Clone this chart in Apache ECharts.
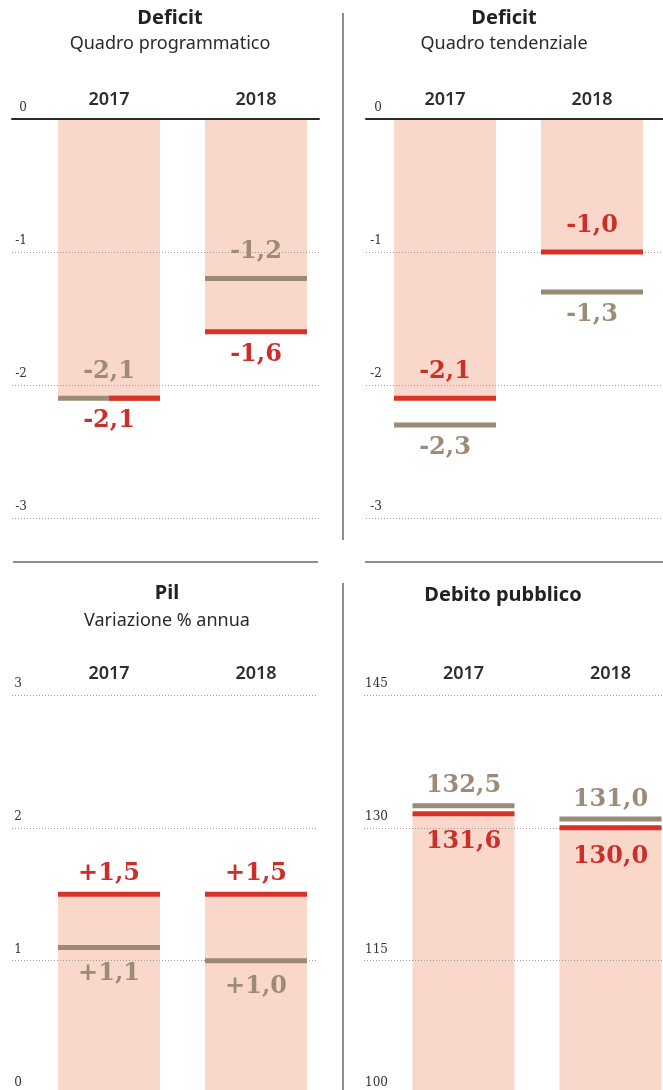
<!DOCTYPE html>
<html><head><meta charset="utf-8">
<script src="https://cdn.jsdelivr.net/npm/echarts@6/dist/echarts.min.js"></script>
<style>html,body{margin:0;padding:0;background:#fff}#c{width:663px;height:1090px}</style>
</head><body><div id="c"></div>
<script>
// ---- data ----
const years = ['2017', '2018'];
const deficitProgRed  = [-2.1, -1.6];
const deficitProgGray = [-2.1, -1.2];
const deficitTendRed  = [-2.1, -1.0];
const deficitTendGray = [-2.3, -1.3];
const pilRed   = [1.5, 1.5];
const pilGray  = [1.1, 1.0];
const debitoRed  = [131.6, 130.0];
const debitoGray = [132.5, 131.0];
// axis ranges [min, max, interval]
const deficitRange = [-3, 0, 1];
const pilRange = [0, 3, 1];
const debitoRange = [100, 145, 15];
const titles = ['Deficit', 'Deficit', 'Pil', 'Debito pubblico'];
const subtitles = ['Quadro programmatico', 'Quadro tendenziale', 'Variazione % annua', ''];

// ---- styles / layout ----
const PINK = '#f9d8cb', RED = '#d8332a', RED_T = '#cc2f29', GRAY = '#9a8a76', GRAY_T = '#9b8b77';
const panels = [
  { red: deficitProgRed, gray: deficitProgGray, range: deficitRange, cx: 170, tTop: 8, sTop: 35,
    gl: 12, gw: 307, top: 119, h: 399, bl: 35.5, zero: true, la: 'right', lm: 15, cm: 10,
    redPos: 'bottom', grayPos: 'top', topD: 12, botD: 8, sign: false, halfRed: 0 },
  { red: deficitTendRed, gray: deficitTendGray, range: deficitRange, cx: 504, tTop: 8, sTop: 35,
    gl: 366, gw: 297, top: 119, h: 399, bl: 371.5, zero: true, la: 'right', lm: 16, cm: 10,
    redPos: 'top', grayPos: 'bottom', topD: 12, botD: 8, sign: false, halfRed: -1 },
  { red: pilRed, gray: pilGray, range: pilRange, cx: 167, tTop: 583, sTop: 612,
    gl: 12, gw: 306, top: 695, h: 398.5, bl: 35.5, zero: false, la: 'right', lm: 10, cm: 12,
    redPos: 'top', grayPos: 'bottom', topD: 6, botD: 12, sign: true, halfRed: -1 },
  { red: debitoRed, gray: debitoGray, range: debitoRange, cx: 503, tTop: 585, sTop: 0,
    gl: 364, gw: 299, top: 695, h: 398.5, bl: 390, zero: false, la: 'left', lm: 1, cm: 12,
    redPos: 'bottom', grayPos: 'top', topD: 5, botD: 14, sign: false, halfRed: -1 }
];

function fmt(sign) {
  return p => {
    const v = p.value;
    const s = Math.abs(v).toFixed(1).replace('.', ',');
    return (v < 0 ? '-' : (sign ? '+' : '')) + s;
  };
}

const grid = [], xAxis = [], yAxis = [], series = [], title = [];
const LABEL_FONT = { fontFamily: 'DejaVu Serif', fontWeight: 'bold', fontSize: 24 };
panels.forEach((P, i) => {
  const a = i * 2, b = i * 2 + 1;
  grid.push({ left: P.gl, width: P.gw, top: P.top, height: P.h, outerBoundsMode: 'none', containLabel: false });
  grid.push({ left: P.bl, width: 294, top: P.top, height: P.h, outerBoundsMode: 'none', containLabel: false });
  xAxis.push({ type: 'category', data: years, gridIndex: a, position: 'top', z: 5,
    axisLine: { show: P.zero, onZero: false, lineStyle: { color: '#2a2a2a', width: 2 } },
    axisTick: { show: false }, axisLabel: { show: false }, splitLine: { show: false } });
  xAxis.push({ type: 'category', data: years, gridIndex: b, position: 'top',
    axisLine: { show: false, onZero: false }, axisTick: { show: false },
    axisLabel: { show: true, margin: P.cm, fontFamily: 'Noto Sans', fontWeight: 600, fontSize: 18, color: '#2e2e2e' } });
  yAxis.push({ type: 'value', gridIndex: a, min: P.range[0], max: P.range[1], interval: P.range[2], z: 3,
    axisLine: { show: false }, axisTick: { show: false },
    splitLine: { show: true, lineStyle: { color: '#9c9c9c', width: 1, type: [1, 2] } },
    axisLabel: { inside: true, align: P.la, margin: P.lm, verticalAlign: 'bottom', padding: [0, 0, 5, 0],
      fontFamily: 'DejaVu Serif', fontSize: 12, color: '#333' } });
  yAxis.push({ type: 'value', gridIndex: b, show: false, min: P.range[0], max: P.range[1], interval: P.range[2],
    startValue: P.range[0] > 0 ? P.range[0] : 0 });
  series.push({ type: 'bar', xAxisIndex: b, yAxisIndex: b, data: P.red, barWidth: 102, silent: true,
    itemStyle: { color: PINK }, z: 2, clip: true });
  const mk = (vals, pos, isRed) => vals.map((v, j) => {
    const d = pos === 'top' ? P.topD : P.botD;
    const item = { value: v, label: { position: pos, distance: d } };
    if (isRed && j === P.halfRed) {
      item.symbolSize = [51, 5];
      item.symbolOffset = [25.5, 0];
      item.label.offset = [-25.5, 0];
    }
    return item;
  });
  series.push({ type: 'scatter', xAxisIndex: b, yAxisIndex: b, symbol: 'rect', symbolSize: [102, 5], silent: true,
    itemStyle: { color: GRAY, opacity: 1 }, z: 4,
    label: Object.assign({ show: true, color: GRAY_T, formatter: fmt(P.sign) }, LABEL_FONT),
    data: mk(P.gray, P.grayPos, false) });
  series.push({ type: 'scatter', xAxisIndex: b, yAxisIndex: b, symbol: 'rect', symbolSize: [102, 5], silent: true,
    itemStyle: { color: RED, opacity: 1 }, z: 5,
    label: Object.assign({ show: true, color: RED_T, formatter: fmt(P.sign) }, LABEL_FONT),
    data: mk(P.red, P.redPos, true) });
  title.push({ text: titles[i], left: P.cx, top: P.tTop, textAlign: 'center', padding: 0,
    textStyle: { fontFamily: 'Noto Sans', fontWeight: 'bold', fontSize: 20, color: '#222' } });
  if (subtitles[i]) title.push({ text: subtitles[i], left: P.cx, top: P.sTop, textAlign: 'center', padding: 0,
    textStyle: { fontFamily: 'Noto Sans', fontWeight: 'normal', fontSize: 18, color: '#2a2a2a' } });
});

const chart = echarts.init(document.getElementById('c'), null, { renderer: 'canvas' });
chart.setOption({
  animation: false,
  backgroundColor: '#fff',
  title, grid, xAxis, yAxis, series,
  graphic: [
    { type: 'line', shape: { x1: 343, y1: 13, x2: 343, y2: 540 }, style: { stroke: '#8e8e8e', lineWidth: 2 } },
    { type: 'line', shape: { x1: 343, y1: 583, x2: 343, y2: 1090 }, style: { stroke: '#8e8e8e', lineWidth: 2 } },
    { type: 'line', shape: { x1: 13, y1: 562, x2: 318, y2: 562 }, style: { stroke: '#8e8e8e', lineWidth: 2 } },
    { type: 'line', shape: { x1: 365, y1: 562, x2: 663, y2: 562 }, style: { stroke: '#8e8e8e', lineWidth: 2 } }
  ]
});
</script></body></html>
